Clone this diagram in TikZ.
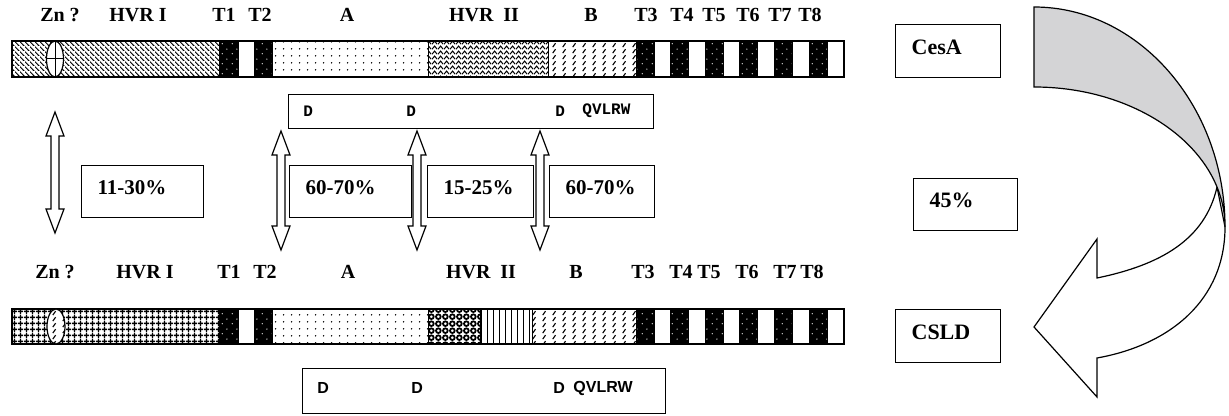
\documentclass[tikz,border=0pt]{standalone}
\usepackage{fontspec}
\setmainfont{Liberation Serif}
\newfontfamily\motifmono{Liberation Mono}
\newfontfamily\motifsans{Liberation Sans}
\usepackage{tikz}
\usetikzlibrary{patterns,positioning}

\definecolor{arrowgray}{RGB}{212,212,214}

% domain fillings
\pgfdeclarepatternformonly{hvrlines}{\pgfpointorigin}{\pgfqpoint{2.5pt}{2.5pt}}{\pgfqpoint{2.5pt}{2.5pt}}{
  \pgfsetlinewidth{0.6pt}
  \pgfpathmoveto{\pgfqpoint{-0.1pt}{2.6pt}}
  \pgfpathlineto{\pgfqpoint{2.6pt}{-0.1pt}}
  \pgfusepath{stroke}}
\pgfdeclarepatternformonly{hvrgrid}{\pgfpointorigin}{\pgfqpoint{3pt}{3pt}}{\pgfqpoint{3pt}{3pt}}{
  \pgfsetlinewidth{0.75pt}
  \pgfpathmoveto{\pgfqpoint{0pt}{1.5pt}}\pgfpathlineto{\pgfqpoint{3pt}{1.5pt}}
  \pgfpathmoveto{\pgfqpoint{1.5pt}{0pt}}\pgfpathlineto{\pgfqpoint{1.5pt}{3pt}}
  \pgfusepath{stroke}}
\pgfdeclarepatternformonly{adots}{\pgfpointorigin}{\pgfqpoint{4pt}{3.5pt}}{\pgfqpoint{4pt}{3.5pt}}{
  \pgfpathcircle{\pgfqpoint{2pt}{1.75pt}}{0.45pt}
  \pgfusepath{fill}}
\pgfdeclarepatternformonly{hvrwaves}{\pgfpointorigin}{\pgfqpoint{3pt}{2.4pt}}{\pgfqpoint{3pt}{2.4pt}}{
  \pgfsetlinewidth{0.55pt}
  \pgfpathmoveto{\pgfqpoint{0pt}{0.4pt}}
  \pgfpathlineto{\pgfqpoint{1.5pt}{2pt}}
  \pgfpathlineto{\pgfqpoint{3pt}{0.4pt}}
  \pgfusepath{stroke}}
\pgfdeclarepatternformonly{bdashes}{\pgfpointorigin}{\pgfqpoint{5pt}{3.2pt}}{\pgfqpoint{5pt}{3.2pt}}{
  \pgfsetlinewidth{0.6pt}
  \pgfpathmoveto{\pgfqpoint{1.5pt}{0.5pt}}
  \pgfpathlineto{\pgfqpoint{3pt}{2.6pt}}
  \pgfusepath{stroke}}
\pgfdeclarepatternformonly{hvrrings}{\pgfpointorigin}{\pgfqpoint{3.4pt}{3.4pt}}{\pgfqpoint{3.4pt}{3.4pt}}{
  \pgfsetlinewidth{0.9pt}
  \pgfpathcircle{\pgfqpoint{1.7pt}{1.7pt}}{1.2pt}
  \pgfusepath{stroke}}
\pgfdeclarepatternformonly{tdots}{\pgfpointorigin}{\pgfqpoint{5pt}{5pt}}{\pgfqpoint{5pt}{5pt}}{
  \pgfpathcircle{\pgfqpoint{1.2pt}{1.2pt}}{0.35pt}
  \pgfpathcircle{\pgfqpoint{3.7pt}{3.7pt}}{0.35pt}
  \pgfusepath{fill}}

% hollow two-way arrow: x, top, bottom
\newcommand{\twowayarrow}[3]{%
  \draw[line width=0.6pt, fill=white] (#1,#2) -- ++(9,24) -- ++(-5,0) -- (#1+4,#3-24)
    -- ++(5,0) -- (#1,#3) -- ++(-9,-24) -- ++(5,0) -- (#1-4,#2+24) -- ++(-5,0) -- cycle;}

\begin{document}
\begin{tikzpicture}[x=0.5pt,y=-0.5pt,
  lbl/.style={font=\bfseries\fontsize{10}{12}\selectfont, inner sep=0pt},
  pct/.style={draw, line width=0.6pt, anchor=north west, align=left,
    font=\bfseries\fontsize{10.5}{12}\selectfont, inner xsep=8pt,
    minimum height=26pt, text depth=4pt},
  gene/.style={draw, line width=0.6pt, anchor=north west, align=left,
    font=\bfseries\fontsize{11}{13}\selectfont, inner xsep=8pt,
    minimum height=26.5pt, text depth=4pt},
  motif/.style={draw, line width=0.6pt, anchor=north west, inner sep=0pt},
  tblock/.style={preaction={fill=black}, pattern=tdots, pattern color=white},
  seg/.style={draw, line width=0.5pt}]

\useasboundingbox (0,0) rectangle (1229,416);

% CesA bar
\path[seg, pattern=hvrlines] (12,41) rectangle (219,77);
\path[seg, tblock] (219,41) rectangle (238,77);
\path[seg, tblock] (254,41) rectangle (272,77);
\path[seg, pattern=adots] (272,41) rectangle (428,77);
\path[seg, pattern=hvrwaves] (428,41) rectangle (548,77);
\path[seg, pattern=bdashes] (548,41) rectangle (636,77);
\foreach \i in {0,...,5}
  \path[seg, tblock] ({636+34.6*\i},41) rectangle ++(18,36);
\draw[line width=0.6pt] (12,41) rectangle (844,77);
\draw[line width=0.6pt, fill=white] (55,59) ellipse [x radius=8.5, y radius=18];
\draw[line width=0.5pt] (55,41) -- (55,77) (46.5,59) -- (63.5,59);

% CSLD bar
\path[seg, pattern=hvrgrid] (12,309) rectangle (219,344);
\path[seg, tblock] (219,309) rectangle (238,344);
\path[seg, tblock] (254,309) rectangle (272,344);
\path[seg, pattern=adots] (272,309) rectangle (428,344);
\path[seg, pattern=hvrrings] (428,309) rectangle (480,344);
\path[seg, pattern=vertical lines] (480,309) rectangle (532,344);
\path[seg, pattern=bdashes] (532,309) rectangle (636,344);
\foreach \i in {0,...,5}
  \path[seg, tblock] ({636+34.6*\i},309) rectangle ++(18,35);
\draw[line width=0.6pt] (12,309) rectangle (844,344);
\draw[line width=0.6pt, preaction={fill=white}, pattern=bdashes] (56,326.5) ellipse [x radius=9, y radius=17.5];

% domain names
\foreach \x/\t [count=\i] in {60/Zn ?, 138/HVR I, 224/T1, 260/T2, 347/A,
    484/HVR~~II, 591/B, 646/T3, 682/T4, 714/T5, 748/T6, 780/T7, 810/T8}
  \node[lbl] (top\i) at (\x,15) {\t};
\foreach \x/\t [count=\i] in {55/Zn ?, 145/HVR I, 229/T1, 265/T2, 348/A,
    481/HVR~~II, 576/B, 643/T3, 681/T4, 709/T5, 747/T6, 785/T7, 812/T8}
  \node[lbl] (bot\i) at (\x,272) {\t};

% conserved motifs
\node[motif, minimum width=182.5pt, minimum height=17pt] (motA) at (288,94) {};
\begin{scope}[every node/.style={anchor=west, inner sep=0pt,
    font=\motifmono\bfseries\fontsize{8}{10}\selectfont}]
\node (mA1) at (303,111) {D};
\node (mA2) at (406,111) {D};
\node (mA3) at (555,111) {D};
\node (mA4) at (582,111) {QVLRW};
\end{scope}
\node[motif, minimum width=181.5pt, minimum height=22.5pt] (motB) at (302,368) {};
\begin{scope}[every node/.style={anchor=west, inner sep=0pt,
    font=\motifsans\bfseries\fontsize{8}{10}\selectfont}]
\node (mB1) at (317,388) {D};
\node (mB2) at (411,388) {D};
\node (mB3) at (553,388) {D};
\node (mB4) at (573,388) {QVLRW};
\end{scope}

% identities
\twowayarrow{55}{112}{233}
\twowayarrow{281}{131}{250}
\twowayarrow{417}{131}{250}
\twowayarrow{540}{131}{250}

\node[pct, text width=45pt] (id1) at (81,165) {11-30\%};
\node[pct, text width=45pt] (id2) at (289,165) {60-70\%};
\node[pct, text width=37pt] (id3) at (427,165) {15-25\%};
\node[pct, text width=36.5pt] (id4) at (549,165) {60-70\%};

% whole proteins
\node[gene, text width=36.5pt] (cesa) at (895,24) {CesA};
\node[gene, text width=36pt, minimum height=26pt] (all) at (913,178) {45\%};
\node[gene, text width=36.5pt] (csld) at (895,309) {CSLD};

% curved arrow
\draw[line width=0.6pt, fill=white] (1217,187) .. controls (1205,240) and (1160,265) .. (1097,278)
  -- (1097,239) -- (1034,327) -- (1097,397) -- (1097,358)
  .. controls (1170,345) and (1225,300) .. (1225,227) -- cycle;
\draw[line width=0.6pt, fill=arrowgray] (1034,7) .. controls (1139,7) and (1225,106) .. (1225,227)
  .. controls (1225,150) and (1139,87) .. (1034,87) -- cycle;

\end{tikzpicture}
\end{document}
